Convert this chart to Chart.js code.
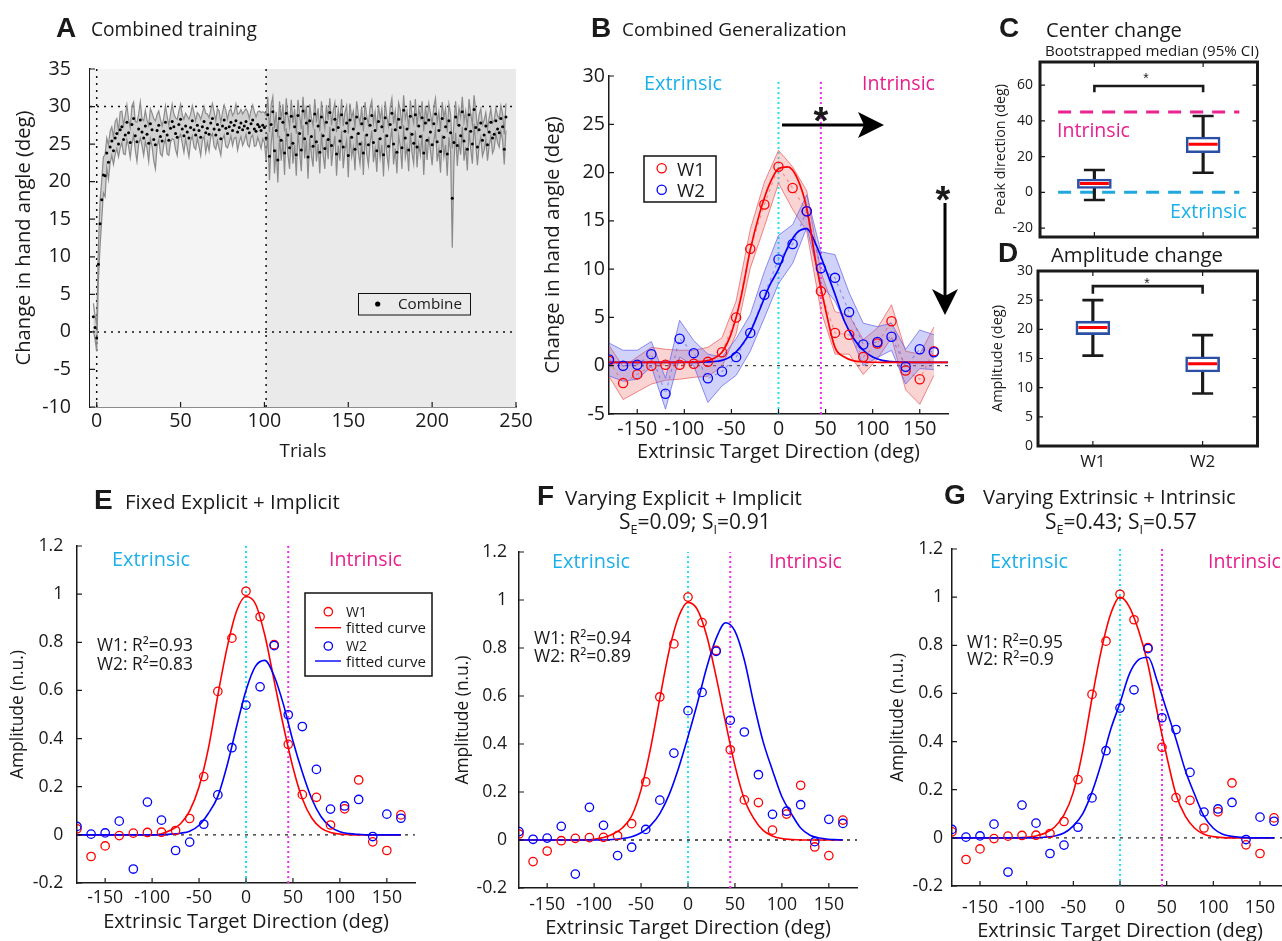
<!DOCTYPE html>
<html><head><meta charset="utf-8"><title>Combined training and generalization</title>
<script src="https://cdn.jsdelivr.net/npm/chart.js@4.4.1/dist/chart.umd.min.js"></script>
<style>
html,body{margin:0;padding:0;background:#fff;}
#root{position:relative;width:1282px;height:941px;overflow:hidden;background:#fff;}
#root canvas{position:absolute;}
.tx{position:absolute;white-space:nowrap;line-height:1;color:#1a1a1a;font-family:'Open Sans',sans-serif;}
.tx sub{font-size:60%;vertical-align:-0.4em;line-height:0;}
</style></head><body><div id="root"></div>
<script>
// ---------------- DATA ----------------
// Panel A: combined training (trial-by-trial mean and SEM), first trial index
const aFirstTrial = -2;
const aMean = [2.0,0.6,-0.8,9.0,14.4,17.6,20.9,20.8,23.8,22.6,24.6,25.4,
24.1,25.8,26.4,25.0,26.9,27.3,25.6,26.2,27.9,26.5,
25.2,27.6,28.4,26.1,25.3,27.0,28.2,26.6,25.8,27.4,
26.3,25.1,27.7,26.9,25.6,24.9,26.8,27.5,26.0,25.4,
26.7,27.9,26.2,25.5,27.1,28.0,27.3,26.4,25.9,27.6,
28.3,27.0,26.1,27.4,26.6,25.8,27.2,28.1,26.9,26.2,
27.5,26.8,25.9,27.3,28.0,26.5,27.1,26.3,27.8,28.4,
27.0,26.2,27.6,26.9,25.7,27.4,28.2,27.1,26.4,27.3,
27.9,26.8,27.5,28.1,26.6,27.2,27.8,26.9,27.4,28.0,
27.1,26.5,27.7,28.2,27.0,26.7,27.6,27.3,26.8,27.5,
27.2,
25.8,28.9,23.4,27.6,29.3,24.1,26.8,22.9,28.4,25.5,
27.9,23.8,29.1,26.2,24.5,28.7,25.1,27.3,23.6,28.8,
26.4,24.2,29.4,25.7,27.8,23.3,28.1,26.0,24.7,29.0,
25.3,27.4,23.9,28.6,26.1,24.4,27.9,25.6,29.2,24.8,
26.9,28.3,23.7,27.2,25.4,28.9,24.6,26.7,27.8,23.5,
28.2,25.9,27.0,24.3,28.6,26.4,25.0,27.7,23.8,28.4,
26.2,24.9,27.5,28.8,25.2,26.8,24.1,28.0,25.7,27.3,
23.6,28.5,26.1,24.7,27.6,29.1,25.0,26.9,23.9,28.3,
27.2,24.5,29.5,25.8,27.0,24.2,28.7,26.3,25.1,28.9,
24.6,27.4,26.0,28.5,23.8,27.8,25.5,28.2,26.6,24.9,
27.7,29.0,25.3,26.8,24.0,28.4,25.9,27.3,23.7,28.1,
26.5,17.8,25.2,28.6,24.8,27.5,26.1,29.3,25.4,27.0,
24.3,28.9,26.7,25.0,29.6,27.2,24.6,26.9,27.8,25.5,
26.2,27.4,24.9,26.6,27.9,25.8,26.3,28.1,27.0,26.5,
28.4,27.3,24.3,28.6];
const aSem = [1.8,1.6,1.8,2.2,3.0,2.6,2.4,2.8,2.0,2.3,2.1,1.9,
1.8,2.2,2.0,1.7,2.4,2.1,1.9,2.6,2.3,1.8,
2.0,2.5,2.2,1.9,2.6,2.0,2.4,1.8,2.3,2.1,
1.9,2.4,2.0,2.2,2.8,3.2,2.1,1.9,2.3,2.0,
1.8,2.2,2.5,2.0,1.9,2.3,1.7,2.1,2.4,1.8,
2.0,1.9,2.2,1.7,2.1,2.5,1.8,2.0,2.3,1.9,
1.7,2.1,2.4,1.8,2.0,2.6,1.9,2.2,1.8,2.0,
2.3,1.9,2.1,2.5,2.2,1.8,2.0,2.4,1.9,2.1,
1.8,2.0,1.7,2.2,2.4,1.9,1.8,2.1,2.0,1.7,
2.2,1.9,1.8,2.0,2.3,1.9,1.7,2.1,2.4,1.8,
2.0,
3.0,2.4,3.2,2.6,2.0,3.0,2.5,3.0,2.3,2.7,
2.4,2.9,2.0,2.6,2.8,2.2,2.7,2.4,2.8,2.1,
2.5,2.8,1.9,2.6,2.3,2.9,2.2,2.5,2.7,2.0,
2.6,2.4,2.8,2.1,2.5,2.7,2.3,2.6,1.9,2.7,
2.5,2.2,2.9,2.4,2.6,2.1,2.8,2.5,2.3,2.9,
2.2,2.6,2.4,2.8,2.1,2.5,2.7,2.3,2.9,2.2,
2.5,2.7,2.4,2.0,2.6,2.5,2.8,2.2,2.6,2.4,
2.9,2.2,2.5,2.7,2.3,2.0,2.7,2.5,2.8,2.2,
2.4,2.8,2.0,2.6,2.4,2.8,2.1,2.5,2.7,2.1,
2.7,2.4,2.5,2.2,2.9,2.3,2.6,2.2,2.5,2.7,
2.3,2.1,2.6,2.5,2.8,2.2,2.6,2.4,2.9,2.2,
2.5,6.6,2.6,2.1,2.7,2.3,2.5,2.0,2.6,2.4,
2.8,2.1,2.4,2.6,1.9,2.3,2.4,2.0,1.9,2.1,
2.0,1.8,2.1,1.9,1.8,2.0,1.9,1.7,1.8,1.9,
1.7,1.8,2.0,1.8];
const aTarget = 30;          // dotted target line
const aPhaseSplit = 101;     // boundary between training phases
const aXTicks = [0,50,100,150,200,250];
const aYTicks = [-10,-5,0,5,10,15,20,25,30,35];

// Panel B: generalization (deg), target directions
const dirs = [-180,-165,-150,-135,-120,-105,-90,-75,-60,-45,-30,-15,0,15,30,45,60,75,90,105,120,135,150,165];
const bW1Mean = [0.5,-1.8,-0.9,0.0,0.1,0.1,0.2,0.4,1.4,5.0,12.1,16.7,20.6,18.4,16.0,7.7,3.4,3.2,0.9,2.3,4.6,-0.5,-1.4,1.5];
const bW2Mean = [0.65,0.0,0.1,1.2,-2.9,2.8,1.3,-1.3,-0.6,0.9,3.4,7.35,11.0,12.6,16.0,10.1,9.1,5.55,2.2,2.45,3.0,-0.1,1.7,1.4];
const bW1Sem = [1.6,1.7,1.8,1.9,1.6,1.5,1.4,1.5,1.5,1.7,2.0,2.3,1.7,2.2,2.1,2.0,2.2,2.0,1.8,1.6,1.7,2.0,2.6,2.5];
const bW2Sem = [1.7,1.6,1.5,1.3,1.6,1.9,1.3,2.5,1.5,1.9,1.9,2.4,2.5,2.0,1.7,1.7,2.4,2.0,2.2,1.6,1.4,1.8,2.0,1.8];
const bCurveX = [-180,-170,-160,-150,-140,-130,-120,-110,-100,-90,-80,-70,-60,-50,-40,-30,-20,-10,0,10,20,30,40,50,60,70,80,90,100,110,120,130,140,150,160,170,180];
const bW1Fit = [0.35,0.35,0.35,0.35,0.35,0.35,0.35,0.35,0.36,0.38,0.45,0.7,1.4,3.4,7.0,12.0,15.8,18.7,20.4,20.6,19.4,16.3,10.5,5.8,1.9,0.9,0.5,0.4,0.36,0.35,0.35,0.35,0.35,0.35,0.35,0.35,0.35];
const bW2Fit = [0.35,0.35,0.35,0.35,0.35,0.35,0.35,0.35,0.35,0.35,0.38,0.42,0.55,1.0,2.0,3.5,5.8,8.2,10.0,12.3,13.8,14.2,12.5,10.0,7.4,4.6,2.8,1.6,0.9,0.55,0.42,0.37,0.35,0.35,0.35,0.35,0.35];
const dirMin = -180, dirMax = 180;
const extrinsicDir = 0, intrinsicDir = 45;
const dirTicks = [-150,-100,-50,0,50,100,150];
const bYTicks = [-5,0,5,10,15,20,25,30];

// Panels C, D: bootstrapped medians (box stats)
const groups = ['W1','W2'];
const cMin = [-4.3,11.0], cQ1 = [2.2,22.2], cMed = [5.0,26.9], cQ3 = [7.5,31.0], cMax = [12.5,42.8];
const cBracket = [56.1,59.6];
const cYTicks = [-20,0,20,40,60];
const dMin = [15.5,9.0], dQ1 = [19.1,12.7], dMed = [20.3,14.1], dQ3 = [21.4,15.3], dMax = [25.0,19.0];
const dBracket = [26.1,27.4];
const dYTicks = [0,5,10,15,20,25,30];

// Panels E, F, G: normalized amplitude and model fits
const nW1 = [0.025,-0.09,-0.046,-0.003,0.007,0.01,0.011,0.018,0.068,0.242,0.596,0.817,1.012,0.906,0.79,0.376,0.167,0.156,0.041,0.108,0.228,-0.029,-0.065,0.083];
const nW2 = [0.035,0.003,0.008,0.057,-0.142,0.136,0.061,-0.065,-0.03,0.044,0.166,0.362,0.539,0.615,0.786,0.499,0.45,0.272,0.107,0.12,0.147,-0.007,0.086,0.069];
const fitX = [-180,-170,-160,-150,-140,-130,-120,-110,-100,-90,-80,-70,-60,-50,-40,-30,-20,-10,0,10,20,30,40,50,60,70,80,90,100,110,120,130,140,150,160,165];
const eW1Fit = [0,0,0,0,0,0,0,0,0,0.005,0.02,0.045,0.10,0.20,0.36,0.58,0.78,0.93,0.99,0.96,0.83,0.64,0.45,0.28,0.15,0.07,0.028,0.01,0.003,0.001,0,0,0,0,0,0];
const eW2Fit = [0,0,0,0,0,0,0,0,0,0,0.003,0.007,0.015,0.04,0.09,0.16,0.29,0.45,0.60,0.70,0.725,0.66,0.54,0.39,0.26,0.15,0.075,0.033,0.013,0.005,0.002,0,0,0,0,0];
const fW1Fit = [0,0,0,0,0,0,0,0,0.003,0.01,0.025,0.05,0.10,0.21,0.38,0.59,0.79,0.93,0.99,0.96,0.85,0.68,0.49,0.31,0.17,0.09,0.04,0.017,0.006,0.002,0,0,0,0,0,0];
const fW2Fit = [0,0,0,0,0,0,0,0,0,0,0.002,0.006,0.014,0.03,0.06,0.11,0.19,0.30,0.43,0.57,0.72,0.84,0.905,0.87,0.75,0.57,0.41,0.29,0.18,0.11,0.05,0.02,0.008,0.003,0.001,0];
const gW1Fit = [0,0,0,0,0,0,0,0,0.002,0.008,0.02,0.045,0.095,0.19,0.36,0.58,0.78,0.93,1.0,0.96,0.86,0.72,0.52,0.34,0.18,0.09,0.04,0.015,0.005,0.001,0,0,0,0,0,0];
const gW2Fit = [0,0,0,0,0,0,0,0,0,0,0.003,0.008,0.02,0.05,0.10,0.19,0.31,0.45,0.56,0.68,0.74,0.75,0.65,0.53,0.41,0.28,0.18,0.09,0.04,0.015,0.006,0.002,0,0,0,0];
const nYTicks = [-0.2,0,0.2,0.4,0.6,0.8,1,1.2];

// ---------------- HELPERS ----------------
const FONT = "'Open Sans', sans-serif";
const INK = '#1a1a1a';
const RED = '#ff0000', BLUE = '#0000ff';
const CYAN_T = '#1cb0ea', MAG_T = '#e91e8c';
const CYAN_L = '#1fe3f2', MAG_L = '#f02cf0';
const root = document.getElementById('root');
const mctx = document.createElement('canvas').getContext('2d');
function fitSize(text, w, family, weight) {
  mctx.font = (weight || 'normal') + ' 100px ' + (family || FONT);
  return 100 * w / mctx.measureText(text).width;
}
Chart.defaults.animation = false;
Chart.defaults.responsive = false;
Chart.defaults.maintainAspectRatio = false;
Chart.defaults.devicePixelRatio = 1;
Chart.defaults.font.family = FONT;
Chart.defaults.color = INK;
Chart.defaults.events = [];
Chart.defaults.plugins.legend.display = false;
Chart.defaults.plugins.tooltip.enabled = false;

const innerTicks = {
  id: 'innerTicks',
  afterDatasetsDraw(chart, args, o) {
    if (!o || !o.on) return;
    const ctx = chart.ctx, a = chart.chartArea, xs = chart.scales.x, ys = chart.scales.y;
    const len = o.len || 5;
    ctx.save();
    ctx.strokeStyle = INK; ctx.lineWidth = o.w || 1.2;
    ctx.beginPath();
    ys.ticks.forEach((t, i) => {
      const p = ys.getPixelForTick(i);
      ctx.moveTo(a.left, p); ctx.lineTo(a.left + len, p);
      if (o.box) { ctx.moveTo(a.right, p); ctx.lineTo(a.right - len, p); }
    });
    xs.ticks.forEach((t, i) => {
      const p = xs.getPixelForTick(i);
      ctx.moveTo(p, a.bottom); ctx.lineTo(p, a.bottom - len);
      if (o.box) { ctx.moveTo(p, a.top); ctx.lineTo(p, a.top + len); }
    });
    ctx.stroke();
    if (o.box) { ctx.lineWidth = o.boxW || 3; ctx.strokeRect(a.left, a.top, a.right - a.left, a.bottom - a.top); }
    ctx.restore();
  }
};
Chart.register(innerTicks);

function mkCanvas(g) {
  const c = document.createElement('canvas');
  c.width = g.cw; c.height = g.ch;
  c.style.left = g.cx + 'px'; c.style.top = g.cy + 'px';
  c.style.width = g.cw + 'px'; c.style.height = g.ch + 'px';
  root.appendChild(c);
  return c;
}
function makeChart(g, cfg) {
  cfg.options.layout = {padding: {left: 0, bottom: 0, top: g.T - g.cy, right: g.cx + g.cw - g.R}};
  cfg.options.scales.x.afterFit = s => { s.height = g.cy + g.ch - g.B; };
  cfg.options.scales.y.afterFit = s => { s.width = g.L - g.cx; };
  return new Chart(mkCanvas(g), cfg);
}
function yTitle(text, w, centerX, g) {
  const fs = fitSize(text, w);
  return {display: true, text, color: INK, font: {size: fs}, padding: {top: centerX - g.cx - fs * 0.6, bottom: 0}};
}
function xTitle(text, w, centerY, g) {
  const fs = fitSize(text, w);
  return {display: true, text, color: INK, font: {size: fs}, padding: {top: 0, bottom: g.cy + g.ch - centerY - fs * 0.6}};
}
function linAxis(min, max, ticks, o) {
  return {
    type: 'linear', min, max,
    afterBuildTicks: s => { s.ticks = ticks.map(v => ({value: v})); },
    grid: {display: false, drawTicks: false},
    border: {display: o.border !== false, color: INK, width: o.bw || 1.5},
    ticks: {display: o.labels !== false, autoSkip: false, maxRotation: 0, minRotation: 0,
            padding: o.pad, color: INK, font: {size: o.fs}, callback: v => String(v)},
    title: o.title || {display: false}
  };
}
const pts = (xs, ys) => xs.map((x, i) => ({x, y: ys[i]}));
const shift = (xs, m, s, k) => xs.map((x, i) => ({x, y: m[i] + k * s[i]}));
function line(data, color, width, extra) {
  return Object.assign({type: 'line', data, borderColor: color, backgroundColor: color, borderWidth: width,
    pointRadius: 0, fill: false, tension: 0}, extra || {});
}
function circles(data, color, r, extra) {
  return Object.assign({type: 'line', data, showLine: false, pointRadius: r, pointStyle: 'circle',
    pointBorderColor: color, pointBackgroundColor: 'rgba(0,0,0,0)', pointBorderWidth: 1.3,
    borderColor: color, backgroundColor: 'rgba(0,0,0,0)'}, extra || {});
}

// ---------------- PANEL A ----------------
(function () {
  const g = {cx: 0, cy: 0, cw: 540, ch: 470, L: 90, R: 516, T: 69, B: 407};
  const fs = fitSize('35', 22.5);
  const trials = aMean.map((v, i) => aFirstTrial + i);
  const xMin = -4, xMax = 250, yMin = -10, yMax = 35;
  makeChart(g, {
    type: 'line',
    data: {datasets: [
      line(pts([xMin, aPhaseSplit], [yMax, yMax]), 'rgba(0,0,0,0)', 0, {fill: 'start', backgroundColor: '#f4f4f4', order: 30}),
      line(pts([aPhaseSplit, xMax], [yMax, yMax]), 'rgba(0,0,0,0)', 0, {fill: 'start', backgroundColor: '#eaeaea', order: 29}),
      line(pts([xMin, xMax], [aTarget, aTarget]), '#111', 1.5, {borderDash: [2, 5], order: 20}),
      line(pts([xMin, xMax], [0, 0]), '#111', 1.5, {borderDash: [2, 5], order: 20}),
      line(pts([0, 0], [yMin, yMax]), '#111', 1.5, {borderDash: [2, 5], order: 20}),
      line(pts([aPhaseSplit, aPhaseSplit], [yMin, yMax]), '#111', 1.5, {borderDash: [2, 5], order: 20}),
      line(shift(trials, aMean, aSem, 1), '#8a8a8a', 1.2, {order: 10}),
      line(shift(trials, aMean, aSem, -1), '#8a8a8a', 1.2, {fill: '-1', backgroundColor: 'rgba(150,150,150,0.38)', order: 9}),
      {type: 'line', data: pts(trials, aMean), showLine: false, pointRadius: 1.5, pointBackgroundColor: '#000', pointBorderWidth: 0, order: 1}
    ]},
    options: {
      scales: {
        x: linAxis(xMin, xMax, aXTicks, {fs, pad: 421.5 - 407 - fs * 0.6, title: xTitle('Trials', 47, 452, g)}),
        y: linAxis(yMin, yMax, aYTicks, {fs, pad: 19, title: yTitle('Change in hand angle (deg)', 255, 24, g)})
      },
      plugins: {innerTicks: {on: true, len: 5}}
    }
  });
})();

// ---------------- PANEL B ----------------
(function () {
  const g = {cx: 530, cy: 0, cw: 430, ch: 470, L: 609, R: 948, T: 76, B: 414};
  const fs = fitSize('-150', 40);
  makeChart(g, {
    type: 'line',
    data: {datasets: [
      line(pts([dirMin, dirMax], [0, 0]), '#444', 1.3, {borderDash: [3, 5], order: 20}),
      line(pts([extrinsicDir, extrinsicDir], [-5, 29.5]), CYAN_L, 2, {borderDash: [2, 3], order: 19}),
      line(pts([intrinsicDir, intrinsicDir], [-5, 29.5]), MAG_L, 2, {borderDash: [2, 3], order: 19}),
      line(shift(dirs, bW1Mean, bW1Sem, 1), 'rgba(235,95,95,0.75)', 1, {order: 12}),
      line(shift(dirs, bW1Mean, bW1Sem, -1), 'rgba(235,95,95,0.75)', 1, {fill: '-1', backgroundColor: 'rgba(240,110,110,0.30)', order: 11}),
      line(shift(dirs, bW2Mean, bW2Sem, 1), 'rgba(95,95,235,0.7)', 1, {order: 10}),
      line(shift(dirs, bW2Mean, bW2Sem, -1), 'rgba(95,95,235,0.7)', 1, {fill: '-1', backgroundColor: 'rgba(100,105,235,0.30)', order: 9}),
      line(pts(dirs, bW1Mean), 'rgba(230,90,90,0.55)', 1.2, {borderDash: [3, 4], order: 8}),
      line(pts(dirs, bW2Mean), 'rgba(90,90,230,0.55)', 1.2, {borderDash: [3, 4], order: 8}),
      line(pts(bCurveX, bW1Fit), RED, 1.7, {cubicInterpolationMode: 'monotone', order: 5}),
      line(pts(bCurveX, bW2Fit), BLUE, 1.7, {cubicInterpolationMode: 'monotone', order: 5}),
      circles(pts(dirs, bW1Mean), RED, 4.6, {order: 2}),
      circles(pts(dirs, bW2Mean), BLUE, 4.6, {order: 1})
    ]},
    options: {
      scales: {
        x: linAxis(dirMin, dirMax, dirTicks, {fs, pad: 429 - 414 - fs * 0.6, title: xTitle('Extrinsic Target Direction (deg)', 283, 452, g)}),
        y: linAxis(-5, 30, bYTicks, {fs, pad: 4, title: yTitle('Change in hand angle (deg)', 258, 553, g)})
      },
      plugins: {innerTicks: {on: true, len: 5}}
    }
  });
})();

// ---------------- PANELS C & D (box plots) ----------------
function boxPanel(g, st, yMin, yMax, yTicks, o) {
  const fs = fitSize(String(yTicks[yTicks.length - 1]), 16);
  const ds = [];
  if (o.refs) {
    o.refs.forEach(r => ds.push({type: 'line', xAxisID: 'x2', data: pts([0, 1], [r.y, r.y]), borderColor: r.color,
      borderWidth: 3, borderDash: [13, 9], pointRadius: 0, fill: false, order: 20}));
  }
  ds.push({type: 'bar', data: groups.map((k, i) => [st.min[i], st.q1[i]]), backgroundColor: INK, barThickness: 2.5, grouped: false, order: 12});
  ds.push({type: 'bar', data: groups.map((k, i) => [st.q3[i], st.max[i]]), backgroundColor: INK, barThickness: 2.5, grouped: false, order: 12});
  ds.push({type: 'bar', data: groups.map((k, i) => [st.q1[i], st.q3[i]]), backgroundColor: '#ffffff', borderColor: '#2c4fa6',
    borderWidth: 2.6, borderSkipped: false, barThickness: 34, grouped: false, order: 10});
  ds.push({type: 'line', showLine: false, data: groups.map((k, i) => ({x: k, y: st.med[i]})), pointStyle: 'line',
    pointRadius: 14.5, pointBorderColor: RED, pointBorderWidth: 3, order: 6});
  ds.push({type: 'line', showLine: false, data: groups.map((k, i) => ({x: k, y: st.max[i]})).concat(groups.map((k, i) => ({x: k, y: st.min[i]}))),
    pointStyle: 'line', pointRadius: 10.5, pointBorderColor: INK, pointBorderWidth: 2.6, order: 5});
  ds.push({type: 'line', data: [{x: groups[0], y: st.br[0]}, {x: groups[0], y: st.br[1]}, {x: groups[1], y: st.br[1]}, {x: groups[1], y: st.br[0]}],
    borderColor: INK, borderWidth: 2.6, pointRadius: 0, fill: false, order: 4});
  const xfs = 17;
  return makeChart(g, {
    type: 'bar',
    data: {labels: groups, datasets: ds},
    options: {
      scales: {
        x: {type: 'category', offset: true, grid: {display: false, drawTicks: false}, border: {display: false},
            ticks: {display: !!o.xLabels, color: INK, font: {size: xfs}, padding: o.xLabels ? o.xLabelY - g.B - xfs * 0.6 : 0},
            title: {display: false}},
        x2: {type: 'linear', min: 0, max: 1, display: false},
        y: linAxis(yMin, yMax, yTicks, {fs, pad: o.ypad, border: false, title: yTitle(o.yTitle, o.yTitleW, o.yTitleX, g)})
      },
      plugins: {innerTicks: {on: true, box: true, len: 5, boxW: 3}}
    }
  });
}
boxPanel({cx: 985, cy: 40, cw: 290, ch: 222, L: 1040, R: 1261, T: 62, B: 237},
  {min: cMin, q1: cQ1, med: cMed, q3: cQ3, max: cMax, br: cBracket}, -25, 73, cYTicks,
  {ypad: 7, yTitle: 'Peak direction (deg)', yTitleW: 131, yTitleX: 1001,
   refs: [{y: intrinsicDir, color: '#e9238f'}, {y: extrinsicDir, color: '#1fa8e0'}]});
boxPanel({cx: 985, cy: 250, cw: 290, ch: 225, L: 1038, R: 1259, T: 271, B: 446},
  {min: dMin, q1: dQ1, med: dMed, q3: dQ3, max: dMax, br: dBracket}, 0, 30, dYTicks,
  {ypad: 5, yTitle: 'Amplitude (deg)', yTitleW: 107, yTitleX: 998, xLabels: true, xLabelY: 462});

// ---------------- PANELS E, F, G ----------------
function fitPanel(g, w1Fit, w2Fit, o) {
  const fs = fitSize('-150', 36);
  return makeChart(g, {
    type: 'line',
    data: {datasets: [
      line(pts([dirMin, dirMax], [0, 0]), '#222', 1.3, {borderDash: [3, 5], order: 20}),
      line(pts([extrinsicDir, extrinsicDir], [-0.2, 1.2]), CYAN_L, 2, {borderDash: [2, 3], order: 19}),
      line(pts([intrinsicDir, intrinsicDir], [-0.2, 1.2]), MAG_L, 2, {borderDash: [2, 3], order: 19}),
      line(pts(fitX, w1Fit), RED, 1.6, {cubicInterpolationMode: 'monotone', order: 6}),
      line(pts(fitX, w2Fit), BLUE, 1.6, {cubicInterpolationMode: 'monotone', order: 5}),
      circles(pts(dirs, nW1), RED, 4.2, {order: 2}),
      circles(pts(dirs, nW2), BLUE, 4.2, {order: 1})
    ]},
    options: {
      scales: {
        x: linAxis(dirMin, dirMax, dirTicks, {fs, pad: o.xLabY - g.B - fs * 0.6, title: xTitle('Extrinsic Target Direction (deg)', 286, o.xTitY, g)}),
        y: linAxis(-0.2, 1.2, nYTicks, {fs, pad: o.ypad, title: yTitle('Amplitude (n.u.)', 129, o.yTitX, g)})
      },
      plugins: {innerTicks: {on: true, len: 5}}
    }
  });
}
fitPanel({cx: 0, cy: 480, cw: 440, ch: 470, L: 77, R: 415, T: 546, B: 883}, eW1Fit, eW2Fit, {xLabY: 898, xTitY: 922, ypad: 13.7, yTitX: 18});
fitPanel({cx: 440, cy: 480, cw: 430, ch: 470, L: 519, R: 857, T: 552, B: 888}, fW1Fit, fW2Fit, {xLabY: 905, xTitY: 928, ypad: 12, yTitX: 463});
fitPanel({cx: 870, cy: 480, cw: 440, ch: 470, L: 952, R: 1288, T: 549, B: 886}, gW1Fit, gW2Fit, {xLabY: 907.5, xTitY: 931, ypad: 9, yTitX: 898});

// ---------------- LEGEND BOXES AND ARROWS ----------------
root.insertAdjacentHTML('beforeend',
 '<svg width="1282" height="941" style="position:absolute;left:0;top:0">' +
 '<rect x="358.5" y="293.5" width="112" height="21.5" fill="none" stroke="#111" stroke-width="1"/>' +
 '<circle cx="377.7" cy="304" r="2.6" fill="#000"/>' +
 '<rect x="644" y="156" width="72" height="46" fill="#fff" stroke="#111" stroke-width="1.5"/>' +
 '<circle cx="661.7" cy="168.3" r="4.6" fill="none" stroke="#f00" stroke-width="1.3"/>' +
 '<circle cx="661.7" cy="189.7" r="4.6" fill="none" stroke="#00f" stroke-width="1.3"/>' +
 '<line x1="782" y1="125" x2="866" y2="125" stroke="#000" stroke-width="3.2"/>' +
 '<polygon points="858,112 884,125 858,138 864,125" fill="#000"/>' +
 '<line x1="945" y1="203" x2="945" y2="298" stroke="#000" stroke-width="3"/>' +
 '<polygon points="932,289 945,315 958,289 945,296" fill="#000"/>' +
 '<rect x="305" y="593" width="127" height="83" fill="#fff" stroke="#111" stroke-width="1.5"/>' +
 '<circle cx="328.3" cy="611.7" r="4.2" fill="none" stroke="#f00" stroke-width="1.3"/>' +
 '<line x1="315" y1="627.7" x2="341" y2="627.7" stroke="#f00" stroke-width="1.4"/>' +
 '<circle cx="328.3" cy="646" r="4.2" fill="none" stroke="#00f" stroke-width="1.3"/>' +
 '<line x1="315" y1="661" x2="341" y2="661" stroke="#00f" stroke-width="1.4"/>' +
 '</svg>');

// ---------------- TEXT ----------------
const LIB = "'Liberation Sans', Arial, sans-serif";
function addText(text, x, base, o) {
  o = o || {};
  const fam = o.family || FONT;
  const wt = o.bold ? 'bold' : 'normal';
  const fs = o.size || fitSize(text, o.w, fam, wt);
  const asc = o.family ? 0.8465 : 0.888;
  const d = document.createElement('div');
  d.className = 'tx';
  d.style.fontFamily = fam; d.style.fontWeight = wt; d.style.fontSize = fs + 'px';
  d.style.color = o.color || INK;
  d.style.top = (base - asc * fs) + 'px';
  d.style.left = x + 'px';
  if (o.anchor === 'middle') d.style.transform = 'translateX(-50%)';
  if (o.html) d.innerHTML = o.html; else d.textContent = text;
  root.appendChild(d);
}
// panel letters
[['A', 56, 38], ['B', 591, 38], ['C', 999, 38], ['D', 998, 263], ['E', 94, 510], ['F', 537, 506], ['G', 944, 505]]
  .forEach(t => addText(t[0], t[1], t[2], {family: LIB, bold: true, size: 28}));
// titles
addText('Combined training', 91, 37, {w: 166});
addText('Combined Generalization', 622, 37, {w: 225});
addText('Center change', 1046, 37, {w: 136});
addText('Bootstrapped median (95% CI)', 1045, 56, {w: 214});
addText('Amplitude change', 1051, 262, {w: 172});
addText('Fixed Explicit + Implicit', 125, 509, {w: 215});
addText('Varying Explicit + Implicit', 565, 505, {w: 237});
addText('Varying Extrinsic + Intrinsic', 983, 504, {w: 253});
addText('SE=0.09; SI=0.91', 619, 530, {size: 21, html: 'S<sub>E</sub>=0.09; S<sub>I</sub>=0.91'});
addText('SE=0.43; SI=0.57', 1045, 530, {size: 21, html: 'S<sub>E</sub>=0.43; S<sub>I</sub>=0.57'});
// extrinsic / intrinsic labels
[[644, 90.7, 862, 90.7], [112, 566.7, 329, 566.7], [552, 568.3, 769, 568.3], [990, 568.3, 1208, 568.3]].forEach(p => {
  addText('Extrinsic', p[0], p[1], {w: 78, color: CYAN_T});
  addText('Intrinsic', p[2], p[3], {w: 73, color: MAG_T});
});
addText('Intrinsic', 1057, 137.3, {w: 73, color: MAG_T});
addText('Extrinsic', 1170, 218.3, {w: 77, color: CYAN_T});
// fit quality
addText('W1: R²=0.93', 97, 651.7, {w: 96});
addText('W2: R²=0.83', 97, 670, {w: 96});
addText('W1: R²=0.94', 534, 645, {w: 97});
addText('W2: R²=0.89', 534, 663, {w: 97});
addText('W1: R²=0.95', 967, 648, {w: 96});
addText('W2: R²=0.9', 967, 666, {w: 87});
// legends
addText('Combine', 398, 310, {w: 64});
addText('W1', 677, 176.5, {w: 28});
addText('W2', 677, 198, {w: 28});
addText('W1', 346, 617, {w: 21});
addText('fitted curve', 346, 633, {w: 80});
addText('W2', 346, 651, {w: 21});
addText('fitted curve', 346, 667, {w: 80});
// significance stars
addText('*', 821, 134, {family: LIB, bold: true, size: 38, anchor: 'middle'});
addText('*', 943, 213, {family: LIB, bold: true, size: 38, anchor: 'middle'});
addText('*', 1146, 83, {family: LIB, size: 14, anchor: 'middle'});
addText('*', 1147, 288, {family: LIB, size: 14, anchor: 'middle'});
</script></body></html>
